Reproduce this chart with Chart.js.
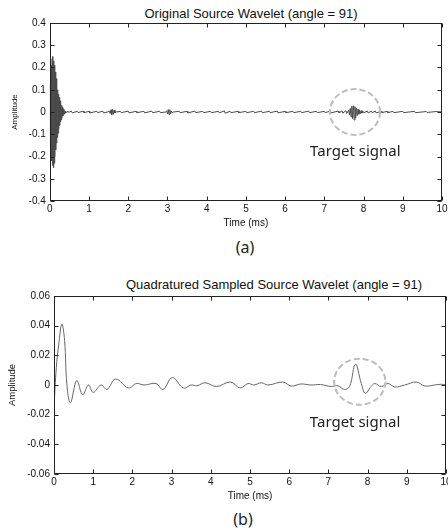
<!DOCTYPE html>
<html>
<head>
<meta charset="utf-8">
<script src="https://cdn.jsdelivr.net/npm/chart.js@4.4.1/dist/chart.umd.min.js"></script>
<style>
  body { margin: 0; background: #fff; }
  #wrap { position: relative; width: 448px; height: 532px; overflow: hidden; }
  canvas { position: absolute; left: 0; }
  .ttl { position: absolute; font: 13px "Liberation Sans", Arial, sans-serif; color: #111;
         white-space: pre; transform: translateX(-50%); line-height: 15px; }
  .cap { position: absolute; font: 16px "Noto Sans", sans-serif; color: #222;
         transform: translateX(-50%); line-height: 20px; }
</style>
</head>
<body>
<div id="wrap">
  <div class="ttl" style="left:251px; top:6px">Original Source Wavelet (angle = 91)</div>
  <canvas id="chartA" width="448" height="232" style="top:0"></canvas>
  <div class="cap" style="left:245px; top:237px">(a)</div>

  <div class="ttl" style="left:274px; top:277px">Quadratured Sampled Source Wavelet (angle = 91)</div>
  <canvas id="chartB" width="448" height="236" style="top:270px"></canvas>
  <div class="cap" style="left:243px; top:509px">(b)</div>
</div>

<script>
// (a) original wavelet, time in ms / amplitude
const timeA = [
  0, 0.01, 0.02, 0.03, 0.04, 0.05, 0.06, 0.07, 0.08, 0.09,
  0.10, 0.11, 0.12, 0.13, 0.14, 0.15, 0.16, 0.17, 0.18, 0.19,
  0.20, 0.21, 0.22, 0.23, 0.24, 0.25, 0.26, 0.27, 0.28, 0.29,
  0.30, 0.31, 0.32, 0.33, 0.34, 0.35, 0.36, 0.37, 0.38, 0.39,
  0.40, 0.42, 0.44, 0.46,
  0.5, 0.55, 0.57, 0.7, 0.72, 0.85, 0.87, 1.0, 1.02, 1.2, 1.22, 1.35, 1.37, 1.47,
  1.52, 1.54, 1.56, 1.58, 1.60, 1.62, 1.64, 1.66, 1.68, 1.70,
  1.8, 1.82, 2.0, 2.02, 2.2, 2.22, 2.4, 2.42, 2.6, 2.62, 2.8, 2.82, 2.95,
  2.98, 3.0, 3.02, 3.04, 3.06, 3.08, 3.10, 3.12, 3.15,
  3.3, 3.32, 3.5, 3.52, 3.7, 3.72, 3.9, 3.92, 4.1, 4.12, 4.3, 4.32, 4.45, 4.47, 4.6, 4.62, 4.8, 4.82,
  5.0, 5.02, 5.2, 5.22, 5.4, 5.42, 5.6, 5.62, 5.8, 5.82, 6.0, 6.02, 6.2, 6.22, 6.4,
  6.42, 6.6, 6.62, 6.8, 6.82, 7.0, 7.02, 7.15, 7.17, 7.35, 7.37, 7.45, 7.47, 7.55, 7.57,
  7.62, 7.64, 7.66, 7.68, 7.70, 7.72, 7.74, 7.76, 7.78, 7.80,
  7.82, 7.84, 7.86, 7.88, 7.90, 7.92, 7.94, 7.96, 7.98, 8.0,
  8.1, 8.12, 8.2, 8.22, 8.3, 8.32, 8.45, 8.47, 8.6, 8.62,
  8.75, 8.77, 9.0, 9.02, 9.3, 9.32, 9.6, 9.62, 9.85, 10
]
const ampA = [
  0.13, -0.15, 0.17, -0.19, 0.21, -0.22, 0.24, -0.24, 0.25, -0.25,
  0.23, -0.23, 0.21, -0.2, 0.18, -0.17, 0.15, -0.14, 0.12, -0.115,
  0.1, -0.095, 0.08, -0.075, 0.065, -0.06, 0.05, -0.045, 0.04, -0.035,
  0.03, -0.025, 0.02, -0.018, 0.014, -0.012, 0.01, -0.008, 0.006, -0.005,
  0.004, -0.003, 0.002, 0,
  0, 0.004, -0.004, 0.003, -0.003, 0.004, -0.003, 0.003, -0.004, 0.003, -0.003, 0.004, -0.004, 0,
  0.004, -0.007, 0.01, -0.012, 0.012, -0.01, 0.008, -0.005, 0.003, 0,
  0.003, -0.003, 0.004, -0.004, 0.003, -0.003, 0.003, -0.004, 0.004, -0.003, 0.003, -0.003, 0,
  0.005, -0.008, 0.011, -0.012, 0.01, -0.008, 0.005, -0.003, 0,
  0.003, -0.003, 0.003, -0.004, 0.004, -0.003, 0.003, -0.003, 0.003, -0.003, 0.003, -0.004, 0.005, -0.005, 0.003, -0.003, 0.003, -0.003,
  0.003, -0.003, 0.003, -0.003, 0.004, -0.003, 0.003, -0.003, 0.004, -0.004, 0.003, -0.003, 0.003, -0.003, 0.003,
  -0.003, 0.004, -0.003, 0.003, -0.003, 0.003, -0.003, 0.004, -0.004, 0.004, -0.004, 0.005, -0.005, 0.006, -0.006,
  0.008, -0.012, 0.016, -0.022, 0.026, -0.03, 0.028, -0.036, 0.024, -0.026,
  0.018, -0.016, 0.012, -0.01, 0.008, -0.007, 0.006, -0.005, 0.004, -0.003,
  0.004, -0.004, 0.004, -0.003, 0.004, -0.004, 0.003, -0.003, 0.003, -0.003,
  0.003, -0.003, 0.003, -0.003, 0.003, -0.003, 0.002, -0.002, 0.002, 0
]

// (b) quadratured sampled wavelet
const timeB = [
  0, 0.06, 0.12, 0.2, 0.27, 0.33, 0.42, 0.58, 0.73, 0.88,
  1.0, 1.2, 1.35, 1.57, 1.9, 2.1, 2.3, 2.6, 2.78, 3.02,
  3.3, 3.5, 3.65, 3.85, 4.15, 4.5, 4.75, 4.95, 5.1, 5.29,
  5.46, 5.84, 6.05, 6.3, 6.55, 6.8, 7.07, 7.24, 7.41, 7.54,
  7.69, 7.84, 7.94, 8.09, 8.18, 8.35, 8.52, 8.69, 8.95, 9.24,
  9.46, 9.71, 9.88, 10
]
const ampB = [
  -0.015, 0.012, 0.027, 0.041, 0.03, 0.0, -0.012, 0.003, -0.0065, 0.0,
  -0.005, 0.0, -0.003, 0.004, -0.002, 0.001, 0.0, 0.001, -0.003, 0.005,
  -0.002, 0.0, -0.0005, 0.0015, -0.001, 0.002, -0.002, 0.001, 0.0, 0.0015,
  0.0, 0.002, -0.0007, 0.0007, 0.0, 0.0003, -0.001, -0.0005, -0.003, -0.001,
  0.014, 0.001, -0.0056, -0.001, 0.001, -0.001, 0.001, -0.0013, 0.0, 0.002,
  -0.0007, 0.0, 0.0005, 0.0
]

const xTicks = { min: 0, max: 10, step: 1 }
const yTicksA = { min: -0.4, max: 0.4, step: 0.1 }
const yTicksB = { min: -0.06, max: 0.06, step: 0.02 }

// dashed circle + label marking the target signal (data units)
const targetA = { t: 7.78, amp: 0, rt: 0.64, ramp: 0.103, labelT: 7.79, labelAmp: -0.179 }
const targetB = { t: 7.8, amp: 0.0022, rt: 0.655, ramp: 0.0155, labelT: 7.68, labelAmp: -0.0254 }

Chart.defaults.font.family = '"Liberation Sans", Arial, sans-serif'
Chart.defaults.color = '#111'

const toPoints = (xs, ys) => xs.map((x, i) => ({ x: x, y: ys[i] }))

// matlab-like box with inward tick marks
const framePlugin = {
  id: 'frame',
  afterDraw(chart) {
    const { ctx, chartArea: a, scales } = chart
    ctx.save()
    ctx.strokeStyle = '#222'
    ctx.lineWidth = 1
    const L = Math.round(a.left) + 0.5, R = Math.round(a.right) - 0.5
    const T = Math.round(a.top) + 0.5, B = Math.round(a.bottom) - 0.5
    ctx.strokeRect(L, T, R - L, B - T)
    ctx.beginPath()
    scales.x.ticks.forEach(t => {
      const px = Math.round(scales.x.getPixelForValue(t.value)) + 0.5
      ctx.moveTo(px, B); ctx.lineTo(px, B - 4)
      ctx.moveTo(px, T); ctx.lineTo(px, T + 4)
    })
    scales.y.ticks.forEach(t => {
      const py = Math.round(scales.y.getPixelForValue(t.value)) + 0.5
      ctx.moveTo(L, py); ctx.lineTo(L + 4, py)
      ctx.moveTo(R, py); ctx.lineTo(R - 4, py)
    })
    ctx.stroke()
    ctx.restore()
  }
}

const targetPlugin = {
  id: 'target',
  afterDatasetsDraw(chart, args, opts) {
    const m = opts.mark
    if (!m) return
    const { ctx, scales: { x, y } } = chart
    const cx = x.getPixelForValue(m.t), cy = y.getPixelForValue(m.amp)
    const rx = Math.abs(x.getPixelForValue(m.t + m.rt) - cx)
    const ry = Math.abs(y.getPixelForValue(m.amp + m.ramp) - cy)
    ctx.save()
    ctx.strokeStyle = '#bdbdbd'
    ctx.lineWidth = 2
    ctx.setLineDash([6, 3])
    ctx.beginPath()
    ctx.ellipse(cx, cy, rx, ry, 0, 0, Math.PI * 2)
    ctx.stroke()
    ctx.setLineDash([])
    ctx.fillStyle = '#222'
    ctx.font = '15px "Noto Sans", sans-serif'
    ctx.textAlign = 'center'
    ctx.textBaseline = 'middle'
    ctx.fillText('Target signal', x.getPixelForValue(m.labelT), y.getPixelForValue(m.labelAmp))
    ctx.restore()
  }
}

function makeChart(id, xs, ys, yt, mark, opt) {
  return new Chart(document.getElementById(id), {
    type: 'line',
    data: {
      datasets: [{
        data: toPoints(xs, ys),
        borderColor: opt.color,
        borderWidth: 1,
        pointRadius: 0,
        tension: opt.tension,
        fill: false
      }]
    },
    options: {
      responsive: false,
      animation: false,
      devicePixelRatio: 1,
      layout: { padding: opt.padding },
      plugins: {
        legend: { display: false },
        tooltip: { enabled: false },
        target: { mark: mark }
      },
      scales: {
        x: {
          type: 'linear',
          min: xTicks.min, max: xTicks.max,
          ticks: { stepSize: xTicks.step, padding: 3, maxRotation: 0, color: '#111', font: { size: 10, lineHeight: 1 } },
          grid: { display: false, drawTicks: false },
          border: { display: false },
          title: { display: true, text: 'Time (ms)', color: '#111', font: { size: 10 }, padding: { top: 0, bottom: 0 } },
          afterFit: (scale) => { scale.paddingRight = 0 }
        },
        y: {
          min: yt.min, max: yt.max,
          ticks: { stepSize: yt.step, padding: 4, color: '#111', font: { size: 10 } },
          grid: { display: false, drawTicks: false },
          border: { display: false },
          title: { display: true, text: 'Amplitude', color: '#111', font: { size: opt.ampSize }, padding: { top: 0, bottom: opt.ampPad } }
        }
      }
    },
    plugins: [framePlugin, targetPlugin]
  })
}

makeChart('chartA', timeA, ampA, yTicksA, targetA,
  { color: '#4a4a4a', tension: 0, padding: { top: 23, left: 10, right: 6, bottom: 3 }, ampSize: 8, ampPad: 5 })
makeChart('chartB', timeB, ampB, yTicksB, targetB,
  { color: '#666', tension: 0.4, padding: { top: 26, left: 7, right: 2, bottom: 4 }, ampSize: 9.5, ampPad: 4.8 })
</script>
</body>
</html>
